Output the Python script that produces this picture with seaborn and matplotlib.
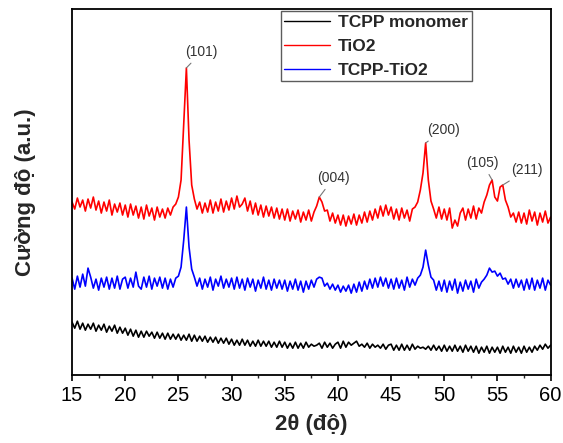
import numpy as np
import pandas as pd
import matplotlib
matplotlib.use('Agg')
import matplotlib.pyplot as plt
import seaborn as sns
from matplotlib.ticker import MultipleLocator

# 2theta grid, 0.25 degree step from 15 to 60
two_theta = np.arange(15, 60.001, 0.25)

# intensities (a.u.), stacked offsets included
tio2 = [
    173, 166, 177, 168, 175, 164, 176, 167, 178, 165, 174, 162, 173, 164, 175, 160, 171, 163, 172, 160,
    170, 158, 171, 160, 169, 157, 168, 156, 170, 159, 167, 155, 168, 158, 166, 157, 167, 160, 168, 171,
    178, 195, 250, 307, 235, 190, 176, 166, 173, 162, 172, 163, 175, 162, 173, 164, 176, 163, 174, 165,
    177, 166, 179, 168, 171, 177, 164, 174, 161, 172, 160, 170, 158, 169, 159, 168, 157, 167, 156, 166,
    155, 166, 154, 164, 156, 165, 153, 163, 155, 165, 154, 163, 169, 178, 173, 164, 165, 154, 162, 152,
    160, 150, 160, 149, 159, 151, 161, 150, 160, 152, 163, 153, 164, 155, 166, 157, 169, 159, 170, 160,
    168, 156, 166, 155, 167, 157, 165, 154, 166, 168, 173, 185, 202, 232, 195, 174, 166, 157, 168, 156,
    166, 155, 167, 147, 155, 149, 162, 167, 155, 166, 157, 169, 156, 167, 162, 173, 180, 190, 195, 178,
    174, 188, 190, 175, 168, 158, 162, 153, 163, 152, 162, 151, 165, 154, 163, 150, 162, 153, 164, 152,
    158,
]

tcpp_tio2 = [
    97, 86, 99, 88, 101, 89, 107, 98, 87, 96, 85, 97, 88, 98, 86, 97, 87, 99, 86, 96,
    98, 87, 97, 88, 103, 89, 86, 98, 88, 99, 86, 97, 89, 98, 87, 97, 86, 96, 88, 97,
    99, 108, 135, 168, 128, 106, 98, 89, 97, 86, 96, 88, 98, 85, 96, 89, 99, 87, 96, 88,
    97, 86, 98, 87, 96, 85, 97, 88, 96, 84, 95, 87, 98, 86, 95, 85, 96, 87, 95, 86,
    95, 84, 94, 86, 96, 85, 94, 83, 94, 86, 95, 88, 96, 98, 97, 89, 92, 86, 91, 85,
    90, 83, 89, 84, 90, 82, 91, 83, 93, 84, 94, 86, 96, 87, 97, 88, 98, 89, 97, 87,
    96, 86, 97, 87, 95, 85, 98, 88, 96, 90, 97, 100, 108, 125, 110, 98, 95, 85, 94, 84,
    95, 83, 94, 85, 96, 82, 93, 84, 95, 86, 94, 83, 96, 87, 93, 96, 100, 107, 103, 104,
    99, 102, 96, 97, 91, 96, 87, 96, 88, 95, 85, 96, 86, 97, 85, 95, 87, 97, 85, 95,
    90,
]

tcpp_monomer = [
    53, 47, 54, 46, 52, 45, 51, 46, 52, 44, 50, 45, 51, 43, 49, 44, 50, 42, 48, 42,
    47, 40, 46, 39, 45, 38, 44, 38, 44, 39, 43, 37, 43, 37, 42, 36, 42, 36, 41, 36,
    41, 35, 40, 35, 41, 34, 40, 34, 39, 34, 39, 33, 38, 33, 38, 32, 37, 32, 37, 31,
    36, 30, 35, 30, 36, 30, 35, 29, 34, 29, 35, 29, 34, 29, 34, 28, 33, 28, 34, 28,
    33, 27, 32, 27, 33, 27, 32, 27, 33, 28, 31, 29, 30, 32, 27, 33, 28, 32, 27, 31,
    33, 27, 34, 28, 33, 30, 32, 34, 29, 31, 28, 32, 27, 31, 28, 30, 27, 31, 26, 30,
    31, 25, 30, 25, 31, 25, 30, 25, 31, 26, 29, 27, 28, 26, 29, 25, 30, 25, 29, 24,
    30, 24, 29, 24, 30, 24, 29, 23, 30, 24, 29, 23, 29, 22, 28, 23, 29, 22, 28, 23,
    28, 22, 29, 23, 28, 22, 29, 23, 28, 22, 29, 23, 28, 23, 29, 25, 30, 26, 31, 27,
    30,
]

series_names = ['TCPP monomer', 'TiO2', 'TCPP-TiO2']
series_colors = ['black', '#ff0000', '#0000ff']

# miller index labels: peak position and where the text sits
peak_labels = ['(101)', '(004)', '(200)', '(105)', '(211)']
peak_x = [25.75, 38.25, 48.25, 54.5, 55.5]
peak_y = [307, 178, 232, 195, 190]
label_x = [27.2, 39.6, 49.9, 53.6, 57.8]
label_y = [323, 197, 245, 212, 205]

df = pd.concat([
    pd.DataFrame({'2theta': two_theta, 'I': tcpp_monomer, 'sample': 'TCPP monomer'}),
    pd.DataFrame({'2theta': two_theta, 'I': tio2, 'sample': 'TiO2'}),
    pd.DataFrame({'2theta': two_theta, 'I': tcpp_tio2, 'sample': 'TCPP-TiO2'}),
])

sns.set_theme(style='ticks')
plt.rcParams['font.family'] = ['Liberation Sans', 'DejaVu Sans']

fig, ax = plt.subplots(figsize=(5.63, 4.43), dpi=100)
fig.subplots_adjust(left=0.128, right=0.978, bottom=0.153, top=0.98)

sns.lineplot(data=df, x='2theta', y='I', hue='sample', hue_order=series_names,
             palette=series_colors, estimator=None, linewidth=1.2, ax=ax)

for lab, px, py, tx, ty in zip(peak_labels, peak_x, peak_y, label_x, label_y):
    ax.annotate(lab, xy=(px, py), xytext=(tx, ty), ha='center', va='center',
                fontsize=10, color='#333333',
                arrowprops=dict(arrowstyle='-', color='#777777', lw=0.8,
                                shrinkA=1, shrinkB=0))

ax.set_xlim(15, 60)
ax.set_ylim(0, 366)
ax.xaxis.set_major_locator(MultipleLocator(5))
ax.xaxis.set_minor_locator(MultipleLocator(2.5))
ax.set_yticks([])
ax.tick_params(axis='x', which='major', direction='out', length=4, width=1.2,
               labelsize=14.5, colors='black', pad=4)
ax.tick_params(axis='x', which='minor', direction='out', length=2.5, width=1.0)

for sp in ax.spines.values():
    sp.set_visible(True)
    sp.set_color('black')
    sp.set_linewidth(1.3)

ax.set_xlabel('2θ (độ)', fontsize=16, fontweight='bold', labelpad=6)
ax.set_ylabel('Cường độ (a.u.)', fontsize=16, fontweight='bold', labelpad=26)

leg = ax.legend(loc='upper left', bbox_to_anchor=(0.431, 1.0), frameon=True,
                fancybox=False, edgecolor='#333333', handlelength=2.6,
                handletextpad=0.5, labelspacing=0.5, borderpad=0.2,
                borderaxespad=0.15, prop={'weight': 'bold', 'size': 12.5})
leg.get_frame().set_linewidth(1.0)
for line in leg.get_lines():
    line.set_linewidth(1.0)

plt.savefig('out.png', dpi=100)
